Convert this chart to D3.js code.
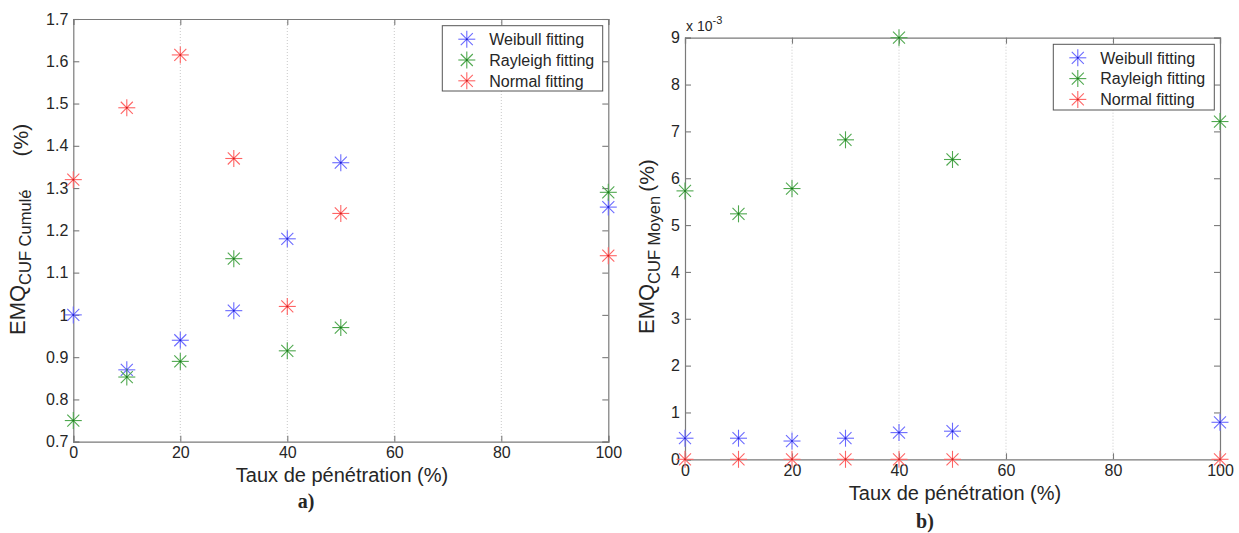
<!DOCTYPE html>
<html>
<head>
<meta charset="utf-8">
<script src="https://cdn.jsdelivr.net/npm/d3@7/dist/d3.min.js"></script>
<style>
  html, body { margin: 0; padding: 0; background: #fff; }
  svg { display: block; }
  text { font-family: "Liberation Sans", Arial, Helvetica, sans-serif; fill: #262626; }
</style>
</head>
<body>
<svg id="chart" width="1239" height="533"></svg>
<script>
// ---------------- data ----------------
const penetration = [0, 10, 20, 30, 40, 50, 100];
const seriesNames = ["Weibull fitting", "Rayleigh fitting", "Normal fitting"];
// a) EMQ CUF Cumulé (%)
const cumWeibull  = [1.00, 0.87, 0.94, 1.01, 1.18, 1.36, 1.255];
const cumRayleigh = [0.75, 0.853, 0.89, 1.133, 0.915, 0.97, 1.29];
const cumNormal   = [1.32, 1.49, 1.615, 1.37, 1.02, 1.24, 1.14];
// b) EMQ CUF Moyen (%)
const moyWeibull  = [0.00045, 0.00045, 0.00039, 0.00045, 0.00057, 0.00060, 0.00079];
const moyRayleigh = [0.00573, 0.00524, 0.00578, 0.00682, 0.00900, 0.00640, 0.00721];
const moyNormal   = [0, 0, 0, 0, 0, 0, 0];
const xTicks = [0, 20, 40, 60, 80, 100];
const cumTicks = [0.7, 0.8, 0.9, 1.0, 1.1, 1.2, 1.3, 1.4, 1.5, 1.6, 1.7];
const moyTicks = [0, 0.001, 0.002, 0.003, 0.004, 0.005, 0.006, 0.007, 0.008, 0.009];

const colors = ["#6a6aff", "#4fa84f", "#ff6464"];
const dotColors = ["#2020d0", "#1a7a1a", "#d02020"];

const svg = d3.select("#chart");
svg.append("rect").attr("width", 1239).attr("height", 533).attr("fill", "#fff");

function star(g, cx, cy, i, r = 8.5) {
  const d = r * Math.SQRT1_2;
  const s = g.append("g").attr("transform", `translate(${cx},${cy})`)
    .attr("stroke", colors[i]).attr("stroke-width", 1.1).attr("fill", "none");
  s.append("line").attr("x1", -r).attr("x2", r).attr("y1", 0).attr("y2", 0);
  s.append("line").attr("x1", 0).attr("x2", 0).attr("y1", -r).attr("y2", r);
  s.append("line").attr("x1", -d).attr("x2", d).attr("y1", -d).attr("y2", d);
  s.append("line").attr("x1", -d).attr("x2", d).attr("y1", d).attr("y2", -d);
  s.append("circle").attr("r", 1).attr("fill", dotColors[i]).attr("stroke", "none");
}

function panel(cfg) {
  const g = svg.append("g");
  const x = d3.scaleLinear().domain([0, 100]).range([cfg.left, cfg.right]);
  const y = d3.scaleLinear().domain(cfg.yDomain).range([cfg.bottom, cfg.top]);
  const axisCol = "#7a7a7a";
  // vertical grid
  g.append("g").selectAll("line").data(xTicks.slice(1, -1)).join("line")
    .attr("x1", d => x(d)).attr("x2", d => x(d))
    .attr("y1", cfg.top).attr("y2", cfg.bottom)
    .attr("stroke", "#c8c8c8").attr("stroke-width", 1).attr("stroke-dasharray", "1,2");
  // axes (box with inward ticks)
  const tk = 6;
  const axB = d3.axisBottom(x).tickValues(xTicks).tickSize(-tk).tickFormat(d3.format("d")).tickPadding(5);
  const axT = d3.axisTop(x).tickValues(xTicks).tickSize(-tk).tickFormat("");
  const axL = d3.axisLeft(y).tickValues(cfg.yTicks).tickSize(-tk).tickFormat(cfg.yFmt).tickPadding(5);
  const axR = d3.axisRight(y).tickValues(cfg.yTicks).tickSize(-tk).tickFormat("");
  const add = (ax, tr) => {
    const a = g.append("g").attr("transform", tr).call(ax);
    a.select(".domain").attr("stroke", axisCol).attr("stroke-width", 1.2);
    a.selectAll(".tick line").attr("stroke", axisCol).attr("stroke-width", 1.1);
    a.selectAll(".tick text").attr("fill", "#262626")
      .style("font-family", '"Liberation Sans", Arial, sans-serif').style("font-size", "16px");
    return a;
  };
  add(axB, `translate(0,${cfg.bottom})`);
  add(axT, `translate(0,${cfg.top})`);
  add(axL, `translate(${cfg.left},0)`);
  add(axR, `translate(${cfg.right},0)`);

  // points
  cfg.series.forEach((vals, i) => {
    vals.forEach((v, k) => star(g, x(penetration[k]), y(v), i));
  });

  // legend
  const L = cfg.legend;
  g.append("rect").attr("x", L.x).attr("y", L.y).attr("width", L.w).attr("height", L.h)
    .attr("fill", "#fff").attr("stroke", "#555").attr("stroke-width", 1);
  seriesNames.forEach((n, i) => {
    const yy = L.y + 13.5 + i * 20.8;
    star(g, L.x + 24.5, yy, i);
    g.append("text").attr("x", L.x + 47).attr("y", yy).attr("dy", "0.36em")
      .style("font-size", "16px").text(n);
  });

  // x label
  g.append("text").attr("x", cfg.xLabel[0]).attr("y", cfg.xLabel[1])
    .attr("text-anchor", "middle").style("font-size", "20px").text("Taux de pénétration (%)");

  // y label
  const yl = g.append("text").attr("transform", `translate(${cfg.yLabel[0]},${cfg.yLabel[1]}) rotate(-90)`)
    .attr("text-anchor", "start").style("font-size", "22px");
  yl.append("tspan").text("EMQ");
  yl.append("tspan").attr("dy", 6).style("font-size", "16.5px").text(cfg.sub);
  yl.append("tspan").attr("dy", cfg.pctDy).attr("dx", cfg.gap).style("font-size", "21px").text("(%)");

  // caption
  g.append("text").attr("x", cfg.cap[0]).attr("y", cfg.cap[1]).attr("text-anchor", "middle")
    .style("font-family", '"Liberation Serif", "Times New Roman", serif')
    .style("font-weight", "bold").style("font-size", "20px").attr("fill", "#000").text(cfg.capText);
  return { g, x, y };
}

panel({
  left: 73.3, right: 608.3, top: 19, bottom: 441.7,
  yDomain: [0.7, 1.7], yTicks: cumTicks, yFmt: d => String(+d.toFixed(1)),
  series: [cumWeibull, cumRayleigh, cumNormal],
  legend: { x: 442.3, y: 25.7, w: 160.4, h: 65.3 },
  xLabel: [342, 482], yLabel: [25, 335], sub: "CUF Cumulé", gap: 33, pctDy: -3,
  cap: [306, 508], capText: "a)"
});

panel({
  left: 685, right: 1220, top: 37.7, bottom: 459.3,
  yDomain: [0, 0.009], yTicks: moyTicks, yFmt: d => String(Math.round(d * 1000)),
  series: [moyWeibull, moyRayleigh, moyNormal],
  legend: { x: 1053.3, y: 44.3, w: 161, h: 65.7 },
  xLabel: [955, 500], yLabel: [654, 334], sub: "CUF Moyen", gap: 4, pctDy: -6,
  cap: [925, 528], capText: "b)"
});

// exponent label
const ex = svg.append("text").attr("x", 686).attr("y", 31).style("font-size", "14px");
ex.append("tspan").text("x 10");
ex.append("tspan").attr("dy", -7).style("font-size", "11px").text("-3");
</script>
</body>
</html>
